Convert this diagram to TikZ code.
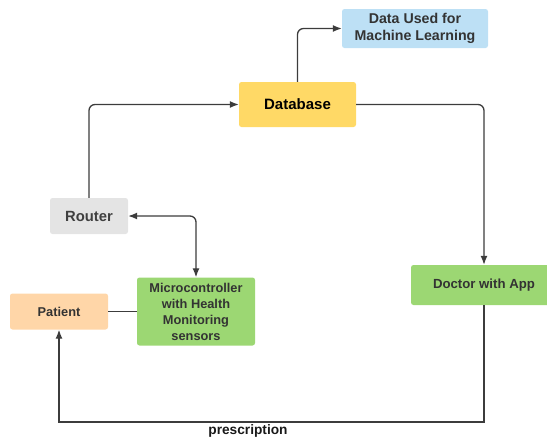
\documentclass[tikz,border=0pt]{standalone}
\usepackage{fontspec}
\setmainfont{Liberation Sans}
\usetikzlibrary{arrows.meta}
\definecolor{cblue}{HTML}{BDE0F5}
\definecolor{cyellow}{HTML}{FFD966}
\definecolor{cgrey}{HTML}{E4E4E4}
\definecolor{corange}{HTML}{FFD6A8}
\definecolor{cgreen}{HTML}{9CD773}
\definecolor{cline}{HTML}{3C3C3C}
\tikzset{
  box/.style={rectangle,rounded corners=2.5pt,draw=none,align=center,inner sep=0pt,font=\bfseries},
  conn/.style={draw=cline,line width=1.3pt,rounded corners=6pt},
  arr/.style={conn,-{Latex[length=9pt,width=7pt]}},
  biarr/.style={conn,{Latex[length=9pt,width=7pt]}-{Latex[length=9pt,width=7pt]}}
}
\begin{document}
\begin{tikzpicture}[x=1pt,y=-1pt]
\useasboundingbox (0,0) rectangle (547,442);
\node[box,fill=cblue,minimum width=146pt,minimum height=39pt,text=black!80,font=\bfseries\fontsize{14.2}{17}\selectfont] (data) at (415,28.5) {Data Used for\\Machine Learning};
\node[box,fill=cyellow,minimum width=117pt,minimum height=45pt,text=black,font=\bfseries\fontsize{15}{18}\selectfont] (db) at (297.5,104.5) {Database};
\node[box,fill=cgrey,minimum width=78pt,minimum height=36pt,text=black!75,font=\bfseries\fontsize{14.8}{17}\selectfont] (router) at (89,216) {Router};
\node[box,fill=corange,minimum width=98pt,minimum height=36pt,text=black!80,font=\bfseries\fontsize{12.8}{15}\selectfont] (patient) at (59,311.5) {Patient};
\node[box,fill=cgreen,minimum width=118pt,minimum height=68pt,text=black!80,font=\bfseries\fontsize{12.8}{16}\selectfont] (micro) at (196,311.5) {Microcontroller\\with Health\\Monitoring\\sensors};
\node[box,fill=cgreen,minimum width=146pt,minimum height=40pt,text=black!80,font=\bfseries\fontsize{13.2}{16}\selectfont] (doctor) at (484,285) {Doctor with App};
\node[font=\bfseries\fontsize{13.7}{15}\selectfont,inner sep=0pt,text=black!90] (presc) at (248,431) {prescription};
\draw[arr] (router.north) |- (db.west);
\draw[arr] (db.north) |- (data.west);
\draw[arr] (db.east) -| (doctor.north);
\draw[biarr] (router.east) -| (micro.north);
\draw[conn] (patient.east) -- (micro.west);
\draw[arr,rounded corners=0pt] (doctor.south) |- (59,422) -- (patient.south);
\end{tikzpicture}
\end{document}
